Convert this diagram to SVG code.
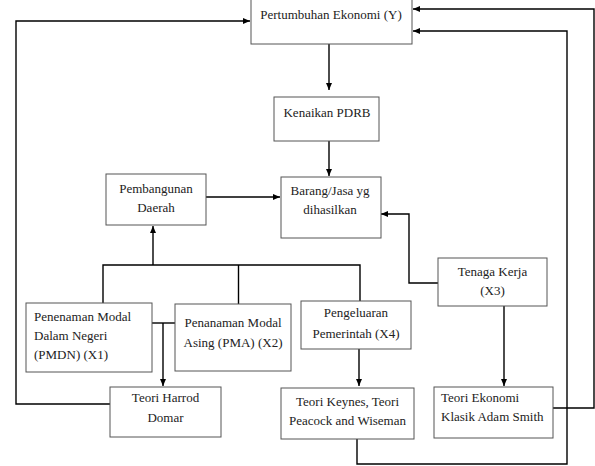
<svg xmlns="http://www.w3.org/2000/svg" width="595" height="466" viewBox="0 0 595 466">
<defs>
<marker id="arr" markerWidth="7" markerHeight="6" refX="7" refY="3" orient="auto" markerUnits="userSpaceOnUse">
<path d="M0,0 L7,3 L0,6 Z" fill="#000"/>
</marker>
<style>
.box{fill:#fff;stroke:#555;stroke-width:1}
.t{font-family:"Liberation Serif","Times New Roman",serif;font-size:13px;fill:#222}
.c{text-anchor:middle}
.ln{fill:none;stroke:#000;stroke-width:1.4}
.a{marker-end:url(#arr)}
</style>
</defs>
<rect width="595" height="466" fill="#fff"/>
<g id="connectors">
<polyline class="ln a" points="110,404 16,404 16,21 250,21"/>
<line class="ln a" x1="329" y1="44" x2="329" y2="90"/>
<line class="ln a" x1="329" y1="141" x2="329" y2="176"/>
<line class="ln a" x1="206" y1="197" x2="280" y2="197"/>
<polyline class="ln a" points="438,283 409,283 409,214 381,214"/>
<polyline class="ln" points="103,303 103,265 360,265 360,301"/>
<line class="ln" x1="238.5" y1="265" x2="238.5" y2="304"/>
<line class="ln a" x1="153" y1="265" x2="153" y2="226"/>
<line class="ln" x1="152" y1="323" x2="175" y2="323"/>
<line class="ln a" x1="163" y1="323" x2="163" y2="386"/>
<line class="ln a" x1="359" y1="349" x2="359" y2="386"/>
<line class="ln a" x1="504" y1="306" x2="504" y2="386"/>
<polyline class="ln a" points="357,439 357,464 567,464 567,31 413,31"/>
<polyline class="ln a" points="553,408 594,408 594,9 413,9"/>
</g>
<g id="pertumbuhan">
<rect class="box" x="251" y="-1" width="161" height="45"/>
<text class="t c" x="331" y="19">Pertumbuhan Ekonomi (Y)</text>
</g>
<g id="kenaikan">
<rect class="box" x="274" y="97" width="105" height="44"/>
<text class="t c" x="327" y="117">Kenaikan PDRB</text>
</g>
<g id="barang">
<rect class="box" x="281" y="177" width="100" height="61"/>
<text class="t c" x="330" y="195">Barang/Jasa yg</text>
<text class="t c" x="330" y="214">dihasilkan</text>
</g>
<g id="pembangunan">
<rect class="box" x="106" y="174" width="100" height="51"/>
<text class="t c" x="156" y="193">Pembangunan</text>
<text class="t c" x="156" y="212">Daerah</text>
</g>
<g id="tenaga">
<rect class="box" x="438" y="258" width="109" height="48"/>
<text class="t c" x="492.5" y="276">Tenaga Kerja</text>
<text class="t c" x="492.5" y="295">(X3)</text>
</g>
<g id="pmdn">
<rect class="box" x="26" y="303" width="126" height="69"/>
<text class="t" x="34" y="321">Penenaman Modal</text>
<text class="t" x="34" y="340">Dalam Negeri</text>
<text class="t" x="34" y="359">(PMDN) (X1)</text>
</g>
<g id="pma">
<rect class="box" x="175" y="304" width="116" height="67"/>
<text class="t c" x="233" y="327">Penanaman Modal</text>
<text class="t c" x="233" y="347">Asing (PMA) (X2)</text>
</g>
<g id="pengeluaran">
<rect class="box" x="301" y="301" width="110" height="48"/>
<text class="t c" x="356" y="317">Pengeluaran</text>
<text class="t c" x="356" y="338">Pemerintah (X4)</text>
</g>
<g id="harrod">
<rect class="box" x="110" y="387" width="111" height="50"/>
<text class="t c" x="165.5" y="402">Teori Harrod</text>
<text class="t c" x="165.5" y="422">Domar</text>
</g>
<g id="keynes">
<rect class="box" x="281" y="388" width="133" height="51"/>
<text class="t c" x="347.5" y="406">Teori Keynes, Teori</text>
<text class="t c" x="347.5" y="425">Peacock and Wiseman</text>
</g>
<g id="klasik">
<rect class="box" x="434" y="387" width="119" height="51"/>
<text class="t" x="441" y="402">Teori Ekonomi</text>
<text class="t" x="441" y="421">Klasik Adam Smith</text>
</g>
</svg>
